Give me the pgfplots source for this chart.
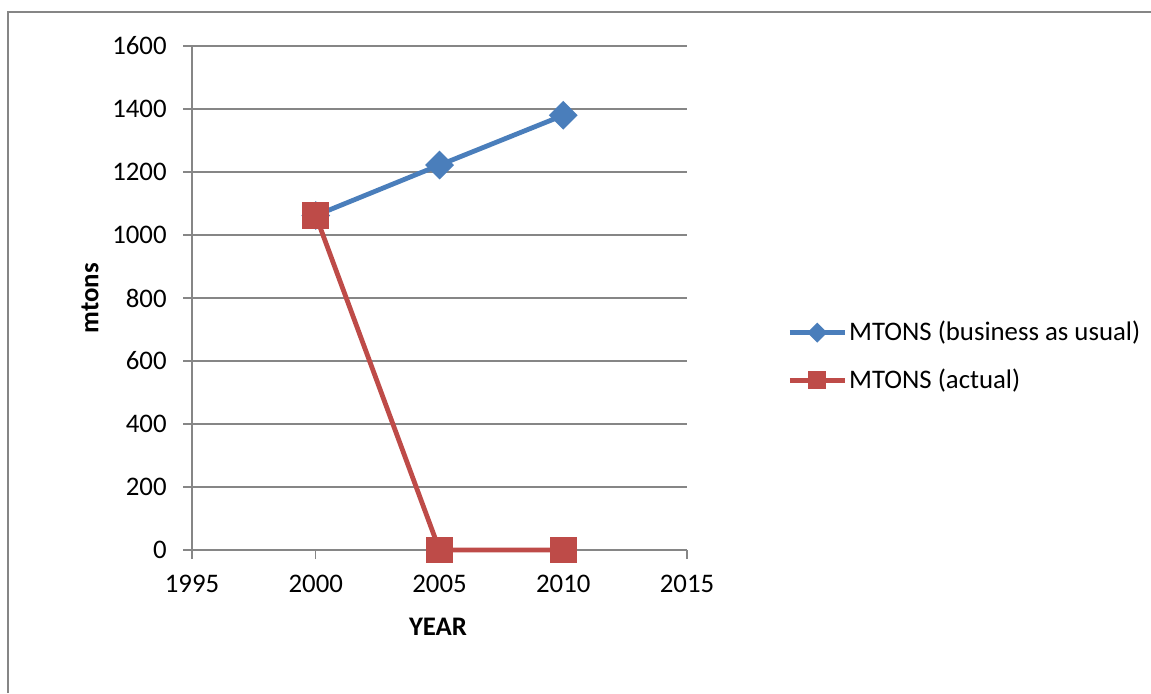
\documentclass[border=0pt]{standalone}
\usepackage{fontspec}
\setmainfont{Carlito}
\usepackage{pgfplots}
\pgfplotsset{compat=1.18}

\definecolor{seriesblue}{HTML}{4A7EBB}
\definecolor{seriesred}{HTML}{BE4B48}
\definecolor{framegray}{HTML}{868686}

\newcommand{\chartfont}{\fontsize{13.4}{15}\selectfont}

\begin{document}
\chartfont
\begin{tikzpicture}
  % chart area: 575.5pt x 346.5pt
  \path[use as bounding box] (0pt,0pt) rectangle (575.5pt,346.5pt);
  \draw[framegray, line width=1.1pt] (4pt,0pt) -- (4pt,340.5pt) -- (575.5pt,340.5pt);

  \begin{axis}[
    at={(96pt,71.5pt)}, anchor=south west,
    scale only axis,
    width=247.5pt, height=252pt,
    xmin=1995, xmax=2015, ymin=0, ymax=1600,
    xtick={1995,2000,2005,2010,2015},
    ytick={0,200,400,600,800,1000,1200,1400,1600},
    /pgf/number format/.cd, set thousands separator={}, assume math mode=true,
    /pgfplots/.cd,
    axis x line*=bottom, axis y line*=left,
    axis line style={framegray, line width=0.6pt, -},
    tick style={framegray, line width=0.6pt},
    major tick length=4.5pt,
    tick align=outside,
    ymajorgrids, grid style={framegray, line width=0.6pt},
    yticklabel style={inner sep=0pt, xshift=-8pt, font=\chartfont},
    xticklabel style={inner sep=0pt, yshift=-8pt, font=\chartfont},
    xlabel={\textbf{YEAR}},
    ylabel={\textbf{mtons}},
    xlabel style={at={(axis description cs:0.497,-0.153)}, anchor=center, font=\chartfont},
    ylabel style={at={(axis description cs:-0.206,0.5)}, anchor=center, rotate=0, font=\chartfont},
    clip=false,
    legend cell align=left,
    legend style={
      at={(axis description cs:1.202,0.384)}, anchor=west,
      draw=none, fill=none, inner sep=0pt,
      row sep=10pt,
      font=\chartfont,
      nodes={inner sep=1pt, anchor=west},
    },
    legend image code/.code={
      \draw[mark repeat=2, mark phase=2, #1, every mark/.append style={scale=0.6}]
        plot coordinates {(0pt,0pt) (13.75pt,0pt) (27.5pt,0pt)};
    },
  ]
    \addplot[seriesblue, line width=2.4pt, mark=square*, mark size=3.9pt,
             mark options={rotate=45, solid, fill=seriesblue, draw=seriesblue}]
      coordinates {(2000,1062) (2005,1222) (2010,1380)};
    \addlegendentry{MTONS (business as usual)}

    \addplot[seriesred, line width=2.4pt, mark=square*, mark size=5.5pt,
             mark options={solid, fill=seriesred, draw=seriesred}]
      coordinates {(2000,1062) (2005,0) (2010,0)};
    \addlegendentry{MTONS (actual)}
  \end{axis}
\end{tikzpicture}
\end{document}
